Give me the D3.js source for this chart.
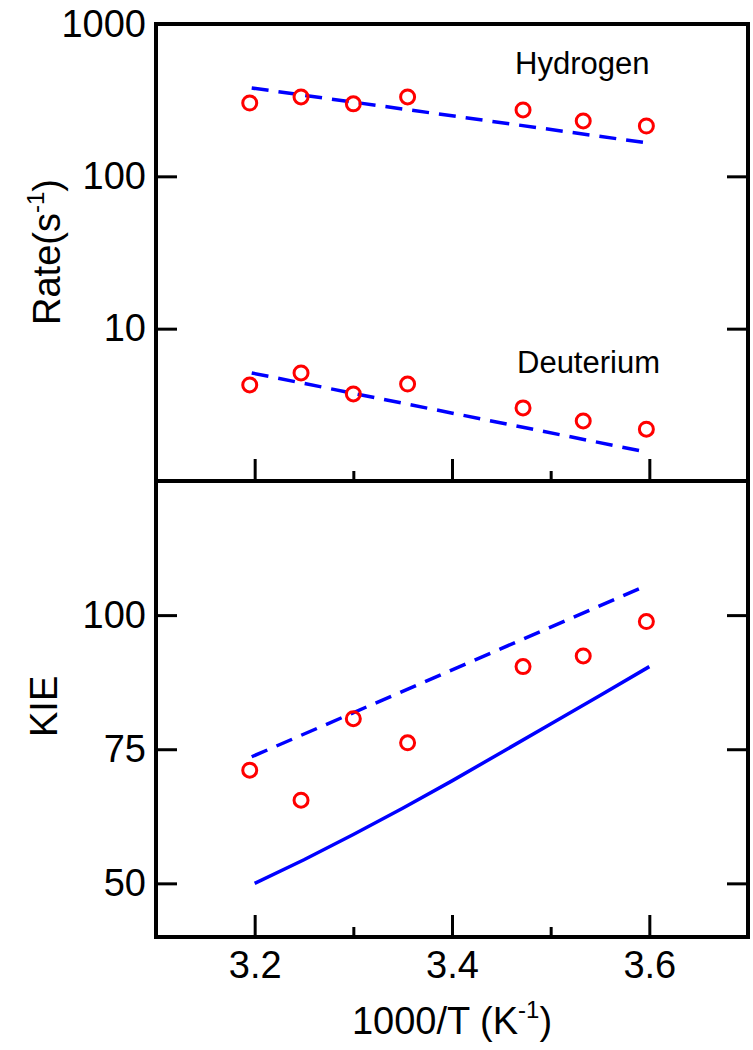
<!DOCTYPE html>
<html>
<head>
<meta charset="utf-8">
<script src="https://cdn.jsdelivr.net/npm/d3@7"></script>
<style>
  body { margin: 0; background: #fff; }
  text { font-family: "Liberation Sans", Arial, Helvetica, sans-serif; fill: #000; }
</style>
</head>
<body>
<div id="chart"></div>
<script>
const width = 753;
const height = 1050;

// 1000/T values of the measured points
const invT = [3.195, 3.247, 3.300, 3.355, 3.472, 3.533, 3.597];
// measured rates (s^-1)
const rateH = [303, 332, 299, 332, 273, 231, 214];
const rateD = [4.27, 5.12, 3.73, 4.33, 3.02, 2.48, 2.19];
// fitted Arrhenius lines (dashed)
const fitX = [3.197, 3.597];
const fitH = [380, 166];
const fitD = [5.12, 1.55];
// KIE measured, fitted (dashed) and calculated (solid)
const kieObs = [71.1, 65.5, 80.7, 76.2, 90.4, 92.4, 98.8];
const kieFit = [73.6, 105.5];
const calcX = [3.2, 3.25, 3.3, 3.35, 3.4, 3.45, 3.5, 3.55, 3.6];
const kieCalc = [50, 54.4, 59.1, 64.0, 69.1, 74.4, 79.7, 85.0, 90.4];

const xMajor = [3.2, 3.4, 3.6];
const xMinor = [3.3, 3.5];
const rateTicks = [10, 100, 1000];
const kieTicks = [50, 75, 100];

const left = 156, right = 748;
const top1 = 24, mid = 481, bottom2 = 937;

const svg = d3.select("#chart").append("svg")
    .attr("width", width)
    .attr("height", height);

const x = d3.scaleLinear().domain([3.1, 3.7]).range([left, right]);
const yRate = d3.scaleLog().domain([1, 1000]).range([mid, top1]);
const yKie = d3.scaleLinear().domain([40, 125]).range([bottom2, mid]);

const fontSize = 38;

function styleAxis(g) {
    g.select(".domain").remove();
    g.selectAll(".tick line").attr("stroke", "#000").attr("stroke-width", 3);
    g.selectAll(".tick text").attr("font-size", fontSize)
        .style("font-family", '"Liberation Sans", Arial, sans-serif');
}

function drawPanel(y, yTop, yBot, ticks, showXLabels) {
    // x ticks, pointing inward (up)
    svg.append("g")
        .attr("transform", `translate(0,${yBot})`)
        .call(d3.axisBottom(x).tickValues(xMajor).tickSize(-22).tickPadding(showXLabels ? 14 : 0)
            .tickFormat(showXLabels ? d3.format(".1f") : ""))
        .call(styleAxis);
    svg.append("g")
        .attr("transform", `translate(0,${yBot})`)
        .call(d3.axisBottom(x).tickValues(xMinor).tickSize(-10).tickFormat(""))
        .call(styleAxis);

    // y ticks left (with labels) and right
    svg.append("g")
        .attr("transform", `translate(${left},0)`)
        .call(d3.axisLeft(y).tickValues(ticks).tickSize(-21).tickPadding(10)
            .tickFormat(d3.format("d")))
        .call(styleAxis);
    svg.append("g")
        .attr("transform", `translate(${right},0)`)
        .call(d3.axisRight(y).tickValues(ticks).tickSize(-21).tickFormat(""))
        .call(styleAxis);

    // frame
    svg.append("rect")
        .attr("x", left).attr("y", yTop)
        .attr("width", right - left).attr("height", yBot - yTop)
        .attr("fill", "none").attr("stroke", "#000").attr("stroke-width", 4);
}

drawPanel(yRate, top1, mid, rateTicks, false);
drawPanel(yKie, mid, bottom2, kieTicks, true);

const blue = "#0000ff";
const red = "#ff0000";

function dashed(xs, ys, y, dash) {
    svg.append("path")
        .datum(xs.map((d, i) => [d, ys[i]]))
        .attr("fill", "none")
        .attr("stroke", blue)
        .attr("stroke-width", 3.5)
        .attr("stroke-dasharray", dash)
        .attr("d", d3.line().x(d => x(d[0])).y(d => y(d[1])));
}

dashed(fitX, fitH, yRate, "17,10");
dashed(fitX, fitD, yRate, "17,10");
dashed(fitX, kieFit, yKie, "17,10");
dashed(calcX, kieCalc, yKie, null);

function circles(vals, y) {
    svg.append("g").selectAll("circle")
        .data(vals)
        .join("circle")
        .attr("cx", (d, i) => x(invT[i]))
        .attr("cy", d => y(d))
        .attr("r", 7)
        .attr("fill", "none")
        .attr("stroke", red)
        .attr("stroke-width", 3);
}

circles(rateH, yRate);
circles(rateD, yRate);
circles(kieObs, yKie);

// series labels
svg.append("text").attr("x", 515).attr("y", 74).attr("font-size", 31).text("Hydrogen");
svg.append("text").attr("x", 517).attr("y", 373).attr("font-size", 31).text("Deuterium");

// axis titles
const rateLabel = svg.append("text")
    .attr("transform", "translate(60,325) rotate(-90)")
    .attr("font-size", fontSize);
rateLabel.append("tspan").text("Rate(s");
rateLabel.append("tspan").attr("font-size", 24).attr("dy", -16).text("-1");
rateLabel.append("tspan").attr("dy", 16).text(")");

svg.append("text")
    .attr("transform", "translate(57,737) rotate(-90)")
    .attr("font-size", fontSize)
    .text("KIE");

const xLabel = svg.append("text")
    .attr("x", 452).attr("y", 1034)
    .attr("text-anchor", "middle")
    .attr("font-size", fontSize);
xLabel.append("tspan").text("1000/T (K");
xLabel.append("tspan").attr("font-size", 24).attr("dy", -16).text("-1");
xLabel.append("tspan").attr("dy", 16).text(")");
</script>
</body>
</html>
